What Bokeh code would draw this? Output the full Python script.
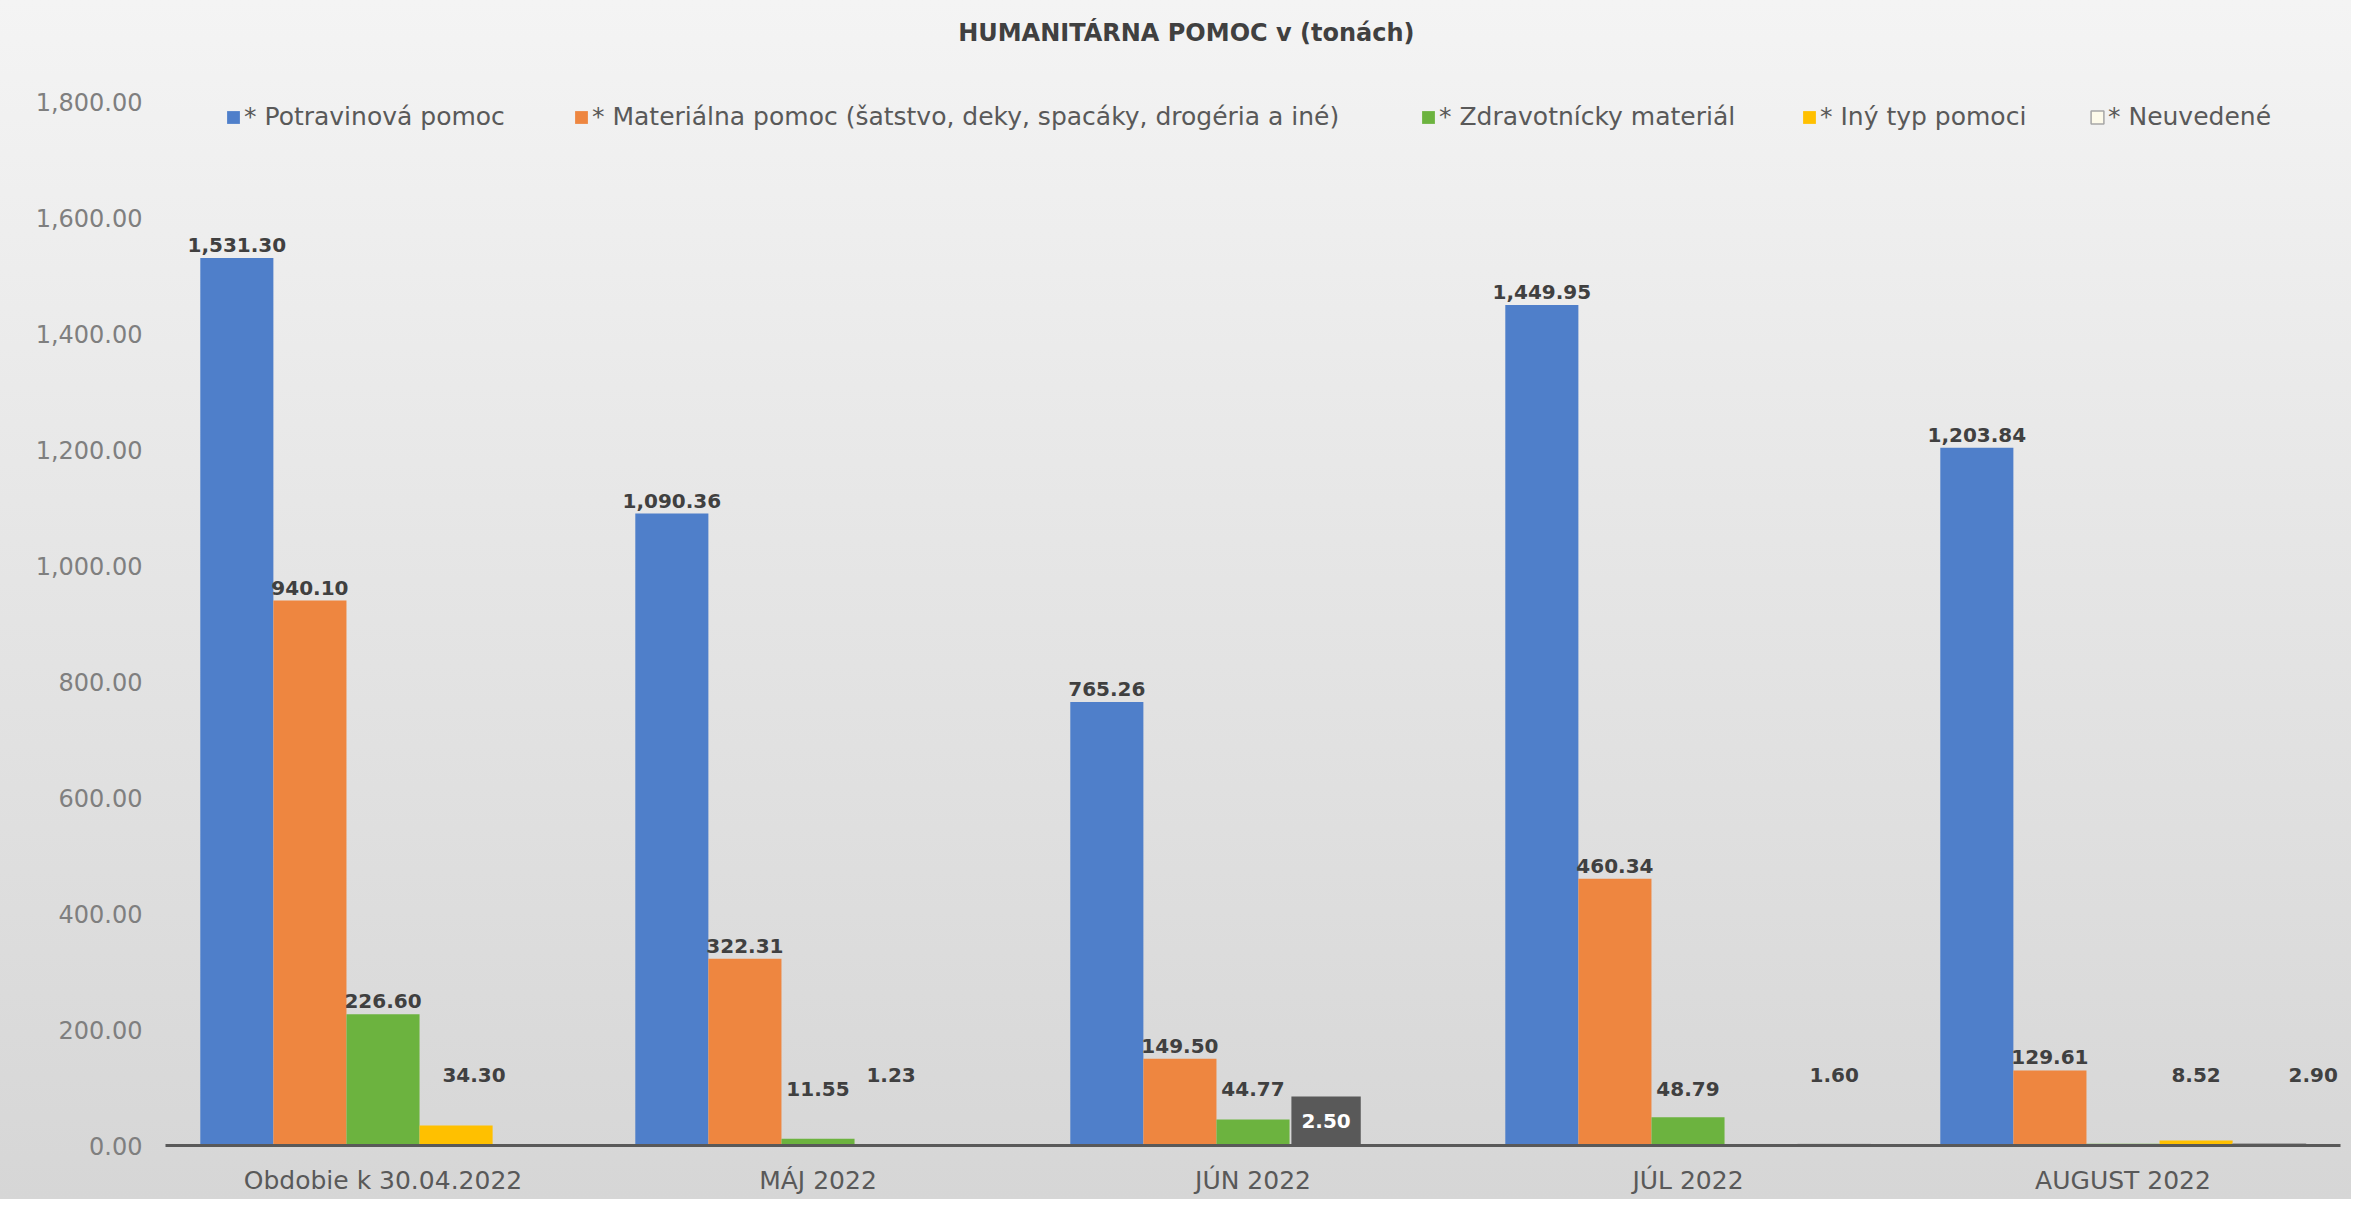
import numpy as np
from bokeh.plotting import figure
from bokeh.models import (ColumnDataSource, FactorRange, LabelSet, Label, Legend,
                          LegendItem, NumeralTickFormatter, SingleIntervalTicker, Range1d)
from bokeh.transform import dodge
from bokeh.embed import file_html
from bokeh.resources import INLINE
from bokeh.core.properties import value

# ---------------- data ----------------
title_text = "HUMANITÁRNA POMOC  v (tonách)"
categories = ["Obdobie k 30.04.2022", "MÁJ 2022", "JÚN 2022", "JÚL 2022", "AUGUST 2022"]
series_names = [
    "* Potravinová pomoc",
    "* Materiálna pomoc (šatstvo, deky, spacáky, drogéria a iné)",
    "* Zdravotnícky materiál",
    "* Iný typ pomoci",
    "* Neuvedené",
]
potravinova = [1531.30, 1090.36, 765.26, 1449.95, 1203.84]
materialna = [940.10, 322.31, 149.50, 460.34, 129.61]
zdravotnicky = [226.60, 11.55, 44.77, 48.79, 3.00]
iny_typ = [34.30, 1.23, 2.50, None, 8.52]
neuvedene = [None, None, None, 1.60, 2.90]
y_ticks_step = 200
y_axis_max_tick = 1800

# ---------------- style ----------------
colors = ["#4f7fca", "#ee8640", "#6cb33f", "#ffc000", "#fdfaea"]
line_colors = [None, None, None, None, "#a6a6a6"]
FONT = "DejaVu Sans"
W = 0.168  # bar width (category = 1)
offsets = [-2 * W, -W, 0.0, W, 2 * W]
label_floor = [0, 0, 75, 100, 100]          # small values: labels float above the axis (like the source)
hidden_labels = {("AUGUST 2022", 2), ("JÚN 2022", 3)}
boxed_labels = {("JÚN 2022", 3)}
label_shift = {("Obdobie k 30.04.2022", 3): 18, ("AUGUST 2022", 4): 44}

all_series = [potravinova, materialna, zdravotnicky, iny_typ, neuvedene]

# frame extends above the 1,800 tick so title and legend sit inside it
Y_END = y_axis_max_tick * 1.086
p = figure(
    x_range=FactorRange(factors=categories, range_padding=0),
    y_range=Range1d(0, Y_END),
    width=2351, height=1199,
    output_backend="svg", toolbar_location=None,
    min_border_left=165, min_border_right=11, min_border_top=12, min_border_bottom=54,
)
p.styles = {"background": "linear-gradient(180deg, #f4f4f4 0%, #e6e6e6 45%, #d6d6d6 100%)"}
p.border_fill_alpha = 0
p.background_fill_alpha = 0
p.outline_line_color = None
p.xgrid.visible = False
p.ygrid.visible = False

renderers = []
for i, (name, vals) in enumerate(zip(series_names, all_series)):
    tops = np.array([np.nan if v is None else v for v in vals], dtype=float)
    src = ColumnDataSource(dict(cat=categories, top=tops))
    r = p.vbar(x=dodge("cat", offsets[i], range=p.x_range), top="top", width=W,
               source=src, fill_color=colors[i], line_color=line_colors[i],
               line_width=1.5 if line_colors[i] else 1)
    renderers.append(r)

    # data labels
    cats, ys, texts, dxs = [], [], [], []
    for c, v in zip(categories, vals):
        if v is None or (c, i) in hidden_labels:
            continue
        cats.append(c)
        ys.append(max(v, label_floor[i]))
        texts.append(f"{v:,.2f}")
        dxs.append(label_shift.get((c, i), 0))
    lsrc = ColumnDataSource(dict(cat=cats, y=ys, text=texts, dx=dxs))
    p.add_layout(LabelSet(x=dodge("cat", offsets[i], range=p.x_range), y="y", text="text",
                          x_offset="dx", y_offset=6, source=lsrc,
                          text_align="center", text_baseline="bottom",
                          text_font=value(FONT), text_font_style="bold",
                          text_font_size="20px", text_color="#404040"))

# boxed label (dark background) as in the source
for (c, i) in boxed_labels:
    v = all_series[i][categories.index(c)]
    xs = categories.index(c) + 0.5 + offsets[i]
    kw = dict(x=xs, y=0, y_offset=25, text=f"{v:,.2f}", text_align="center",
              text_baseline="middle", text_font=FONT, text_font_style="bold",
              text_font_size="20px", text_color="white",
              background_fill_color="#595959", background_fill_alpha=1.0)
    try:
        lab = Label(padding=(10, 17), **kw)
    except Exception:
        try:
            lab = Label(padding=11, **kw)
        except Exception:
            lab = Label(**kw)
    p.add_layout(lab)

# axes
xa = p.xaxis[0]
xa.axis_line_color = "#595959"
xa.axis_line_width = 3
xa.major_tick_line_color = None
xa.minor_tick_line_color = None
xa.major_label_standoff = 14
xa.major_label_text_font = FONT
xa.major_label_text_font_size = "25px"
xa.major_label_text_color = "#595959"

ya = p.yaxis[0]
ya.axis_line_color = None
ya.major_tick_line_color = None
ya.minor_tick_line_color = None
ya.ticker = SingleIntervalTicker(interval=y_ticks_step, num_minor_ticks=0)
ya.formatter = NumeralTickFormatter(format="0,0.00")
ya.major_label_standoff = 17
ya.major_label_text_font = FONT
ya.major_label_text_font_size = "24px"
ya.major_label_text_color = "#7f7f7f"

# title (centered over the whole chart area like the source)
p.add_layout(Label(x=1025, y=1113, x_units="screen", y_units="screen", text=title_text,
                   text_align="center", text_baseline="middle",
                   text_font=FONT, text_font_style="bold",
                   text_font_size="24px", text_color="#404040"))

# legend: one entry per position, as in the source
legend_x = [60, 408, 1255, 1636, 1924]
for i, (name, r) in enumerate(zip(series_names, renderers)):
    leg = Legend(items=[LegendItem(label=name, renderers=[r])],
                 location=(legend_x[i], 1014), orientation="horizontal",
                 glyph_width=16, glyph_height=16, label_standoff=3,
                 padding=0, margin=0, spacing=0,
                 background_fill_alpha=0, border_line_alpha=0,
                 label_text_font=FONT, label_text_font_size="25px",
                 label_text_color="#595959")
    p.add_layout(leg)

open("out.html", "w").write(file_html(p, INLINE))
